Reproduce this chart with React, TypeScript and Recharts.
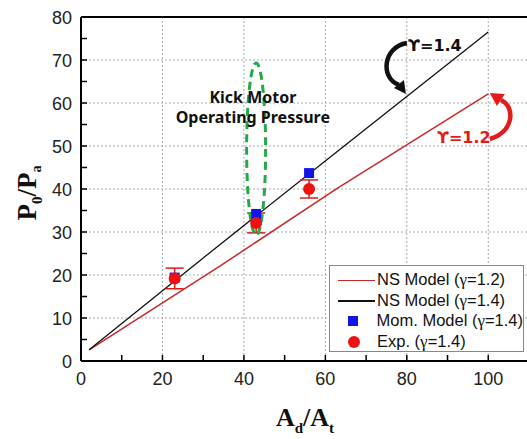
import React from "react";
import {
  CartesianGrid,
  ComposedChart,
  ErrorBar,
  Label,
  Legend,
  Line,
  ReferenceDot,
  ReferenceLine,
  Scatter,
  XAxis,
  YAxis,
} from "recharts";

// NS model curves
const modelX = [2, 34, 63, 100];
const ns12 = [2.6, 22.0, 40.2, 62.1];
const ns14 = [2.6, 27.0, 48.8, 76.5];

// measured / momentum-model points
const expX = [23, 43, 56];
const expY = [19.2, 32.1, 40.0];
const expErr = [2.4, 2.3, 2.1];
const momY = [19.4, 34.2, 43.7];

const xTicks = [0, 10, 20, 30, 40, 50, 60, 70, 80, 90, 100, 110];
const yTicks = [0, 5, 10, 15, 20, 25, 30, 35, 40, 45, 50, 55, 60, 65, 70, 75, 80];
const xGrid = [20, 40, 60, 80, 100];
const yGrid = [10, 20, 30, 40, 50, 60, 70];

const legendItems = [
  { name: "NS Model (", g: "γ", rest: "=1.2)", color: "#c62a28", kind: "line" },
  { name: "NS Model (", g: "γ", rest: "=1.4)", color: "#111", kind: "line" },
  { name: "Mom. Model (", g: "γ", rest: "=1.4)", color: "#1414e6", kind: "square" },
  { name: "Exp. (", g: "γ", rest: "=1.4)", color: "#ee1111", kind: "circle" },
];

const ns12Data = modelX.map((x, i) => ({ x, y: ns12[i] }));
const ns14Data = modelX.map((x, i) => ({ x, y: ns14[i] }));
const expData = expX.map((x, i) => ({ x, y: expY[i], err: expErr[i] }));
const momData = expX.map((x, i) => ({ x, y: momY[i] }));

const sans = "'Liberation Sans', Arial, sans-serif";
const serif = "'Liberation Serif', 'Times New Roman', serif";

const XTick = (props: any) => {
  const { x, y, payload } = props;
  const v = payload.value;
  return (
    <g>
      <line x1={x} x2={x} y1={y} y2={y - 6} stroke="#000" strokeWidth={1.5} />
      {v % 20 === 0 && v <= 100 && (
        <text x={x} y={y + 24} textAnchor="middle" fontSize={18} fill="#222" fontFamily={sans}>
          {v}
        </text>
      )}
    </g>
  );
};

const YTick = (props: any) => {
  const { x, y, payload } = props;
  const v = payload.value;
  return (
    <g>
      <line x1={x} x2={x + 6} y1={y} y2={y} stroke="#000" strokeWidth={1.5} />
      {v % 10 === 0 && (
        <text x={x - 9} y={y + 6.5} textAnchor="end" fontSize={18} fill="#222" fontFamily={sans}>
          {v}
        </text>
      )}
    </g>
  );
};

const renderLegend = () => (
  <div
    style={{
      border: "1.5px solid #888",
      background: "#fff",
      padding: "4px 0 2px 0",
      fontFamily: sans,
      fontSize: 16.5,
      color: "#111",
      boxSizing: "border-box",
      width: 195,
      height: 87,
    }}
  >
    {legendItems.map((it) => (
      <div key={it.name + it.rest} style={{ display: "flex", alignItems: "center", height: 20.5 }}>
        <div style={{ width: 47, display: "flex", justifyContent: "center", alignItems: "center" }}>
          {it.kind === "line" && <div style={{ width: 37, height: 1.5, background: it.color, marginLeft: 6 }} />}
          {it.kind === "square" && <div style={{ width: 10, height: 10, background: it.color }} />}
          {it.kind === "circle" && (
            <div style={{ width: 12, height: 12, borderRadius: 6, background: it.color }} />
          )}
        </div>
        <span style={{ whiteSpace: "nowrap" }}>
          {it.name}
          <span style={{ fontFamily: serif, fontSize: 17 }}>{it.g}</span>
          {it.rest}
        </span>
      </div>
    ))}
  </div>
);

const YTitle = (props: any) => {
  const { viewBox } = props;
  const cy = viewBox.y + viewBox.height / 2;
  return (
    <text
      x={0}
      y={0}
      transform={`translate(36, ${cy + 4}) rotate(-90)`}
      textAnchor="middle"
      fontFamily={serif}
      fontWeight="bold"
      fontSize={27}
      fill="#111"
    >
      P
      <tspan fontSize={15} dy={6}>0</tspan>
      <tspan dy={-6}>/P</tspan>
      <tspan fontSize={14} dy={5}>a</tspan>
    </text>
  );
};

const XTitle = () => (
  <text x={305} y={426} textAnchor="middle" fontFamily={serif} fontWeight="bold" fontSize={26} fill="#111">
    A
    <tspan fontSize={15} dy={7}>d</tspan>
    <tspan dy={-7}>/A</tspan>
    <tspan fontSize={15} dy={7}>t</tspan>
  </text>
);

const Ellipse = ({ cx, cy }: any) => (
  <ellipse cx={cx} cy={cy} rx={9.5} ry={86} fill="none" stroke="#25a84a" strokeWidth={3} strokeDasharray="8 5" />
);

const KickText = ({ cx, cy }: any) => (
  <text x={cx} y={cy} textAnchor="middle" fontFamily="'Noto Sans', sans-serif" fontWeight="bold" fontSize={16} fill="#111">
    <tspan x={cx} dy={5}>Kick Motor</tspan>
    <tspan x={cx} dy={20}>Operating Pressure</tspan>
  </text>
);

const Gamma14 = ({ cx, cy }: any) => (
  <g>
    <text x={cx} y={cy + 6} textAnchor="middle" fontFamily="'DejaVu Sans', sans-serif" fontWeight="bold" fontSize={16} fill="#111">
      ϒ=1.4
    </text>
    <path d={`M ${cx - 28} ${cy - 2} C ${cx - 52} ${cy + 2}, ${cx - 55} ${cy + 33}, ${cx - 36} ${cy + 40}`} fill="none" stroke="#111" strokeWidth={4.5} />
    <polygon
      points={`${cx - 41} ${cy + 43} ${cx - 31} ${cy + 35} ${cx - 29} ${cy + 49}`}
      fill="#111"
    />
  </g>
);

const Gamma12 = ({ cx, cy }: any) => (
  <g>
    <text x={cx} y={cy + 6} textAnchor="middle" fontFamily="'DejaVu Sans', sans-serif" fontWeight="bold" fontSize={16} fill="#e41b1b">
      ϒ=1.2
    </text>
    <path d={`M ${cx + 26} ${cy + 2} C ${cx + 50} ${cy - 5}, ${cx + 52} ${cy - 30}, ${cx + 37} ${cy - 37}`} fill="none" stroke="#e41b1b" strokeWidth={4.5} />
    <polygon
      points={`${cx + 41} ${cy - 43} ${cx + 33} ${cy - 31} ${cx + 26} ${cy - 44}`}
      fill="#e41b1b"
    />
  </g>
);

const Square = ({ cx, cy }: any) => <rect x={cx - 5} y={cy - 5} width={10} height={10} fill="#1414e6" />;
const Dot = ({ cx, cy }: any) => <circle cx={cx} cy={cy} r={6} fill="#ee1111" />;

export default function App() {
  return (
    <div style={{ position: "absolute", left: 0, top: 0, width: 527, height: 439, overflow: "hidden", background: "#fff" }}>
      <ComposedChart width={540} height={439} margin={{ top: 17, right: 11, bottom: 0, left: 0 }}>
        <CartesianGrid
          horizontalValues={yGrid}
          verticalValues={xGrid}
          stroke="#aaa"
          strokeDasharray="2 2"
        />
        <XAxis
          type="number"
          dataKey="x"
          domain={[0, 110]}
          ticks={xTicks}
          interval={0}
          height={78}
          tickSize={0}
          tickMargin={0}
          tickLine={false}
          tick={<XTick />}
          axisLine={{ stroke: "#000", strokeWidth: 2 }}
          allowDataOverflow
        >
          <Label content={<XTitle />} />
        </XAxis>
        <YAxis
          type="number"
          domain={[0, 80]}
          ticks={yTicks}
          interval={0}
          width={81}
          tickSize={0}
          tickMargin={0}
          tickLine={false}
          tick={<YTick />}
          axisLine={{ stroke: "#000", strokeWidth: 2 }}
          allowDataOverflow
        >
          <Label content={<YTitle />} />
        </YAxis>
        <ReferenceLine y={80} stroke="#000" strokeWidth={2} />
        <ReferenceLine x={110} stroke="#000" strokeWidth={2} />
        <ReferenceDot x={43} y={49.3} r={1} shape={<Ellipse />} />
        <ReferenceDot x={42.2} y={61.2} r={1} shape={<KickText />} />
        <ReferenceDot x={86.9} y={73.5} r={1} shape={<Gamma14 />} />
        <ReferenceDot x={94.0} y={52.1} r={1} shape={<Gamma12 />} />
        <Line data={ns12Data} dataKey="y" type="linear" stroke="#c62a28" strokeWidth={1.5} dot={false} isAnimationActive={false} />
        <Line data={ns14Data} dataKey="y" type="linear" stroke="#111" strokeWidth={1.3} dot={false} isAnimationActive={false} />
        <Scatter data={momData} dataKey="y" shape={<Square />} isAnimationActive={false} />
        <Scatter data={expData} dataKey="y" shape={<Dot />} isAnimationActive={false}>
          <ErrorBar dataKey="err" direction="y" width={9} stroke="#e01818" strokeWidth={1.5} />
        </Scatter>
        <Legend
          layout="vertical"
          align="center"
          verticalAlign="middle"
          content={renderLegend}
          wrapperStyle={{ left: 329, top: 265, width: 195, height: 87 }}
        />
      </ComposedChart>
    </div>
  );
}
